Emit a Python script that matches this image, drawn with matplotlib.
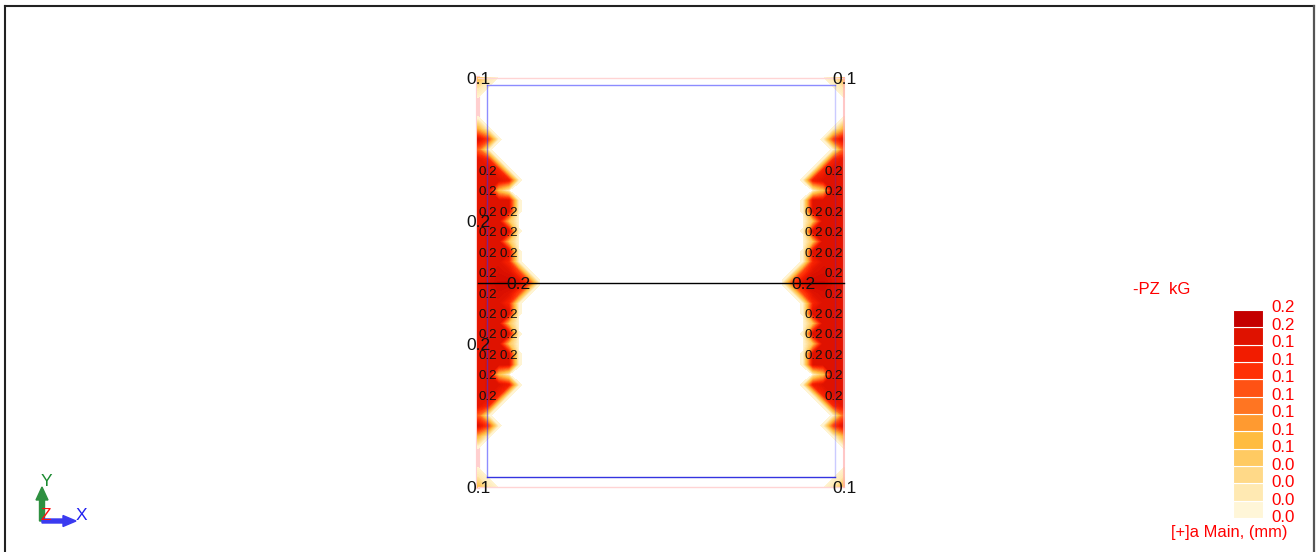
import numpy as np
import matplotlib
matplotlib.use('Agg')
import matplotlib.pyplot as plt
from matplotlib.colors import LinearSegmentedColormap
from matplotlib.patches import FancyArrow

plt.rcParams['font.family'] = ['Liberation Sans', 'DejaVu Sans']

W, H = 1316, 552

# Presion en los nodos del muro, de arriba (k=0) al centro (k=10), cada media celda
# una lista por columna de la malla, desde el borde del muro hacia adentro
col_00 = [.07, .02, 0, 0, .002, .08, .19, .12, .185, .185, .185, .185, .185, .185, .185, .185, .185, .185, .185, .185, .185]
col_05 = [.02, 0, 0, 0, 0, .002, .14, .002, .16, .19, .19, .19, .19, .19, .19, .19, .19, .19, .19, .19, .19]
col_10 = [0, 0, 0, 0, 0, 0, .002, 0, .002, .16, .19, .06, .19, .19, .19, .19, .19, .19, .19, .195, .20]
col_15 = [0, 0, 0, 0, 0, 0, 0, 0, 0, .002, .17, 0, .19, .19, .06, .19, .06, .19, .16, .19, .20]
col_20 = [0, 0, 0, 0, 0, 0, 0, 0, 0, 0, .002, 0, .002, .002, 0, .002, 0, .002, .002, .14, .19]
col_25 = [0, 0, 0, 0, 0, 0, 0, 0, 0, 0, 0, 0, 0, 0, 0, 0, 0, 0, 0, .002, .14]
col_30 = [0, 0, 0, 0, 0, 0, 0, 0, 0, 0, 0, 0, 0, 0, 0, 0, 0, 0, 0, 0, .002]
col_pos = [0, .5, 1, 1.5, 2, 2.5, 3]

# Etiquetas de valores (posicion en celdas de la malla)
small_rows_a = [4.5, 5.5, 6.5, 7.5, 8.5, 9.5, 10.5, 11.5, 12.5, 13.5, 14.5, 15.5]
small_rows_b = [6.5, 7.5, 8.5, 11.5, 12.5, 13.5]
big_rows_left = [7, 13]
corner_rows = [0, 20]

# Leyenda
legend_colors = ['#fff6d8', '#ffe9b2', '#ffd988', '#ffca62', '#ffbc40', '#ff9a30',
                 '#ff7522', '#ff5214', '#ff3006', '#f21c00', '#df1200', '#c40000']
legend_labels = ['0.0', '0.0', '0.0', '0.0', '0.1', '0.1', '0.1', '0.1', '0.1', '0.1', '0.1', '0.2', '0.2']
legend_max = 0.21

# Se crea la figura, el eje principal trabaja en celdas de la malla
fig = plt.figure(figsize=(W / 100, H / 100), dpi=100, facecolor='white')
ax = fig.add_axes([0, 0, 1, 1])
sx = (844 - 478) / 18
sy = (487 - 78) / 20
ax.set_xlim(-478 / sx, (W - 478) / sx)
ax.set_ylim(-(H - 487) / sy, 20 + 78 / sy)
ax.axis('off')

# Se arma la malla, la mitad de abajo es espejo de la de arriba
half = np.array([col_00, col_05, col_10, col_15, col_20, col_25, col_30]).T
Z = np.vstack([half, half[-2::-1]])
rows = 20 - np.arange(Z.shape[0]) / 2
cols = np.array(col_pos)

cmap = LinearSegmentedColormap.from_list('pz', legend_colors)
levels = np.linspace(0.0015, legend_max, 60)
for xs in [cols, 18 - cols]:
    cs = ax.contourf(xs, rows, Z, levels=levels, cmap=cmap, vmin=0, vmax=legend_max, zorder=1)
    cs.set_edgecolor('face')
    cs.set_linewidth(0.3)

# Contorno del muro
ax.plot([0, 18], [20, 20], color='#ffd4d4', lw=1, zorder=2)
ax.plot([0, 18], [0, 0], color='#ffd4d4', lw=1, zorder=2)
ax.plot([0, 0], [0, 20], color='#ffb0b0', lw=3, alpha=0.6, zorder=0.5)
ax.plot([18, 18], [0, 20], color='#ffb0b0', lw=1.5, alpha=0.7, zorder=2)
ax.plot([.44, 17.56], [19.66, 19.66], color='#8c8cff', lw=1, zorder=2)
ax.plot([.44, 17.56], [.49, .49], color='#3434e0', lw=1, zorder=2)
ax.plot([.44, .44], [.49, 19.66], color='#3030ff', lw=1, alpha=0.55, zorder=2)
ax.plot([17.56, 17.56], [.49, 19.66], color='#3030ff', lw=1, alpha=0.25, zorder=2)
ax.plot([0, 18], [10, 10], color='black', lw=1, zorder=3)

# Etiquetas sobre el muro
dy = -0.09
small = dict(fontsize=9.6, color='#111111', ha='center', va='center', zorder=4)
big = dict(fontsize=12.6, color='#111111', ha='center', va='center', zorder=4)
for k in small_rows_a:
    ax.text(0.5, 20 - k + dy, '0.2', **small)
    ax.text(17.5, 20 - k + dy, '0.2', **small)
for k in small_rows_b:
    ax.text(1.5, 20 - k + dy, '0.2', **small)
    ax.text(16.5, 20 - k + dy, '0.2', **small)
for k in big_rows_left:
    ax.text(0, 20 - k + dy, '0.2', **big)
ax.text(2, 10 + dy, '0.2', **big)
ax.text(16, 10 + dy, '0.2', **big)
for k in corner_rows:
    ax.text(0, 20 - k + dy, '0.1', **big)
    ax.text(18, 20 - k + dy, '0.1', **big)

# Leyenda de colores
lg = fig.add_axes([1233 / W, 1 - 518 / H, 30 / W, 208 / H])
lg.bar(np.zeros(len(legend_colors)), np.ones(len(legend_colors)), bottom=np.arange(len(legend_colors)),
       width=1, color=legend_colors, edgecolor='white', linewidth=0.8, align='center')
lg.set_xlim(-.5, .5)
lg.set_ylim(0, len(legend_colors))
lg.set_xticks([])
lg.set_yticks([])
for i, lab in enumerate(legend_labels):
    lg.text(.77, i * 1.01, lab, color='#ff0000', fontsize=12.2, ha='left', va='center')
for s in lg.spines.values():
    s.set_visible(False)

# Capa en pixeles para marco, textos de la leyenda y ejes XYZ
top = fig.add_axes([0, 0, 1, 1])
top.set_xlim(0, W)
top.set_ylim(H, 0)
top.axis('off')
top.patch.set_alpha(0)
top.plot([5, 5], [H, 6], color='#222222', lw=1.5)
top.plot([5, 1314], [6, 6], color='#222222', lw=1.5)
top.plot([1314, 1314], [6, H], color='#555555', lw=1.6)
top.text(1133, 289, '-PZ  kG', color='#ff0000', fontsize=12, ha='left', va='center')
top.text(1171, 533, '[+]a Main, (mm)', color='#ff0000', fontsize=11.9, ha='left', va='center')

top.add_patch(FancyArrow(42, 521, 0, -34, width=5, head_width=12, head_length=13,
                         length_includes_head=True, color='#2e9040', zorder=2))
top.add_patch(FancyArrow(42, 521, 34, 0, width=4, head_width=11, head_length=13,
                         length_includes_head=True, color='#3a3af0', zorder=3))
top.text(46, 481, 'Y', color='#1a8a30', fontsize=12.5, ha='center', va='center')
top.text(81, 516, 'X', color='#2020f0', fontsize=12.5, ha='center', va='center')
top.text(46, 515, 'Z', color='#ff1010', fontsize=12.5, ha='center', va='center', zorder=4)

fig.savefig('out.png', dpi=100)
